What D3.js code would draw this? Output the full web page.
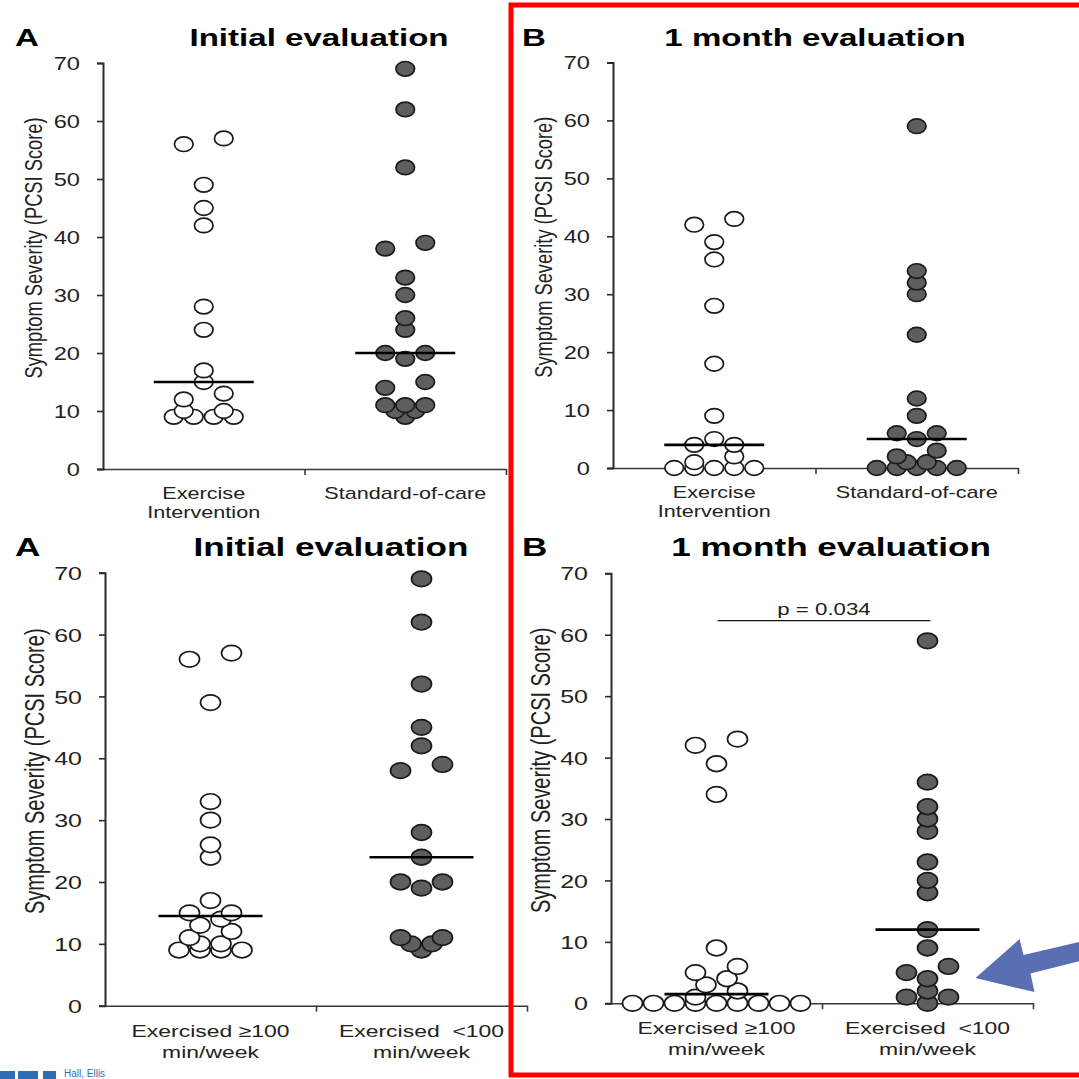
<!DOCTYPE html>
<html><head><meta charset="utf-8">
<script src="https://cdn.jsdelivr.net/npm/d3@7"></script>
<style>
html,body{margin:0;padding:0;background:#fff}
svg{display:block}
text{font-family:"Liberation Sans",Arial,Helvetica,sans-serif;white-space:pre}
</style>
</head><body><div id="chart"></div>
<script>
// ---------------- data ----------------
const categoriesTop = ["Exercise\nIntervention", "Standard-of-care"];
const categoriesBottom = ["Exercised ≥100\nmin/week", "Exercised  <100\nmin/week"];
const yTicks = [0, 10, 20, 30, 40, 50, 60, 70];
const yLabel = "Symptom Severity (PCSI Score)";
const titles = ["Initial evaluation", "1 month evaluation", "Initial evaluation", "1 month evaluation"];
const letters = ["A", "B", "A", "B"];

const initialExercise   = [57, 56, 49, 45, 42, 28, 24, 17, 15, 13, 12, 10, 10, 9, 9, 9, 9];
const initialStandard   = [69, 62, 52, 39, 38, 33, 30, 26, 24, 20, 20, 19, 15, 14, 11, 11, 11, 10, 10, 9];
const monthExercise     = [43, 42, 39, 36, 28, 18, 9, 5, 4, 4, 2, 1, 0, 0, 0, 0, 0];
const monthStandard     = [59, 34, 32, 30, 23, 12, 9, 6, 6, 5, 3, 2, 1, 1, 0, 0, 0, 0, 0];
const initialExercised100  = [57, 56, 49, 33, 30, 26, 24, 17, 15, 15, 14, 13, 12, 11, 10, 10, 9, 9, 9, 9];
const initialExercisedLess = [69, 62, 52, 45, 42, 39, 38, 28, 24, 20, 20, 19, 11, 11, 10, 10, 9];
const monthExercised100    = [43, 42, 39, 34, 9, 6, 5, 4, 3, 2, 1, 0, 0, 0, 0, 0, 0, 0, 0, 0];
const monthExercisedLess   = [59, 36, 32, 30, 28, 23, 20, 18, 12, 9, 6, 5, 4, 2, 1, 1, 0];
const pValueLabel = "p = 0.034";
const pValueLevel = 62.3;
const arrowTipValue = 4.1;
const footerText = "Hall, Ellis";

// ---------------- layout ----------------
const W = 1079, H = 1079, S = 1.35; // S: horizontal text stretch of the source figure
const svg = d3.select("#chart").append("svg").attr("width", W).attr("height", H);
svg.append("rect").attr("width", W).attr("height", H).attr("fill", "#fff");

const panels = [
  { series: [initialExercise, initialStandard], cats: categoriesTop,
    box: { left: 103, right: 506, top: 63, bottom: 469 }, titleX: 319, titleY: 46, letterX: 15,
    fs: { title: 24.5, tick: 17.5, cat: 16, ylab: 18.3 }, catY: [30, 19], step: 20, rx: 9.3, ry: 7.3, half: 50 },
  { series: [monthExercise, monthStandard], cats: categoriesTop,
    box: { left: 613, right: 1018, top: 62.5, bottom: 468 }, titleX: 815, titleY: 46, letterX: 522,
    fs: { title: 24.5, tick: 17.5, cat: 16, ylab: 18.3 }, catY: [30, 19], step: 20, rx: 9.3, ry: 7.3, half: 50 },
  { series: [initialExercised100, initialExercisedLess], cats: categoriesBottom,
    box: { left: 105, right: 527, top: 572.7, bottom: 1005.7 }, titleX: 331, titleY: 556, letterX: 15,
    fs: { title: 26, tick: 18.5, cat: 17, ylab: 20 }, catY: [31, 21], step: 21, rx: 10, ry: 7.8, half: 52 },
  { series: [monthExercised100, monthExercisedLess], cats: categoriesBottom,
    box: { left: 611, right: 1033, top: 573.3, bottom: 1003.3 }, titleX: 831, titleY: 556, letterX: 522,
    fs: { title: 26, tick: 18.5, cat: 17, ylab: 20 }, catY: [31, 21], step: 21, rx: 10, ry: 7.8, half: 52 }
];

// symmetric dot-plot layout (offsets in units of one symbol width)
function swarmOffsets(values) {
  const idx = values.map((v, i) => i).sort((a, b) => values[b] - values[a]);
  const groups = [];
  idx.forEach(i => {
    const g = groups[groups.length - 1];
    if (g && values[g[0]] === values[i]) g.push(i); else groups.push([i]);
  });
  const rows = [];
  for (let k = 0; k < groups.length; k++) {
    const g = groups[k], nx = groups[k + 1];
    if (g.length === 1 && nx && nx.length === 1 && values[g[0]] - values[nx[0]] <= 1) {
      rows.push([nx[0], g[0]]); k++;
    } else rows.push(g);
  }
  const off = new Array(values.length).fill(0);
  let prev = null;
  rows.forEach(r => {
    const n = r.length;
    let o = n === 1 ? [0] : n === 2 ? [-1, 1] : r.map((_, i) => i - (n - 1) / 2);
    if (n === 2 && prev) {
      const gap = d3.min(prev.r, i => values[i]) - d3.max(r, i => values[i]);
      if (gap <= 1) {
        const clash = c => c.some(x => prev.o.includes(x));
        if (clash(o)) { o = [-0.5, 0.5]; if (clash(o)) o = [-1.5, 1.5]; }
      }
    }
    r.forEach((i, j) => off[i] = o[j]);
    prev = { r, o };
  });
  return off;
}

function stretchedText(g, x, y, str, size, opts = {}) {
  const t = g.append("text")
    .attr("transform", `translate(${x},${y}) scale(${S},1)` + (opts.rotate ? ` rotate(${opts.rotate})` : ""))
    .attr("font-size", size)
    .attr("text-anchor", opts.anchor || "middle")
    .attr("font-weight", opts.bold ? "bold" : null)
    .attr("fill", opts.fill || "#111");
  if (opts.dy) t.attr("dy", opts.dy);
  const lines = str.split("\n");
  if (lines.length === 1) t.text(str);
  else lines.forEach((ln, i) => t.append("tspan").attr("x", 0).attr("dy", i === 0 ? 0 : opts.lineGap).text(ln));
  return t;
}

const scales = [];
panels.forEach((p, pi) => {
  const g = svg.append("g");
  const b = p.box;
  const y = d3.scaleLinear().domain([0, 70]).range([b.bottom, b.top]);
  const x = d3.scalePoint().domain([0, 1]).range([b.left, b.right]).padding(0.5);
  const xa = d3.scaleLinear().domain([0, 1]).range([b.left, b.right]);
  scales.push({ x, y });

  // y axis
  const ya = g.append("g").attr("transform", `translate(${b.left},0)`)
    .call(d3.axisLeft(y).tickValues(yTicks).tickSize(6).tickSizeOuter(6));
  ya.select(".domain").attr("stroke", "#2a2a2a").attr("stroke-width", 2);
  ya.selectAll(".tick line").attr("stroke", "#2a2a2a").attr("stroke-width", 1.6);
  ya.selectAll(".tick text").attr("x", 0).attr("dy", "0.36em")
    .attr("transform", `translate(-23,0) scale(${S},1)`)
    .attr("font-size", p.fs.tick).attr("fill", "#222")
    .attr("font-family", '"Liberation Sans",Arial,sans-serif');

  // x axis
  const xg = g.append("g").attr("transform", `translate(0,${b.bottom})`)
    .call(d3.axisBottom(xa).tickValues([0.5, 1]).tickFormat("").tickSize(6).tickSizeOuter(0));
  xg.select(".domain").attr("stroke", "#3a3a3a").attr("stroke-width", 1.6);
  xg.selectAll(".tick line").attr("stroke", "#3a3a3a").attr("stroke-width", 1.6);

  // category labels
  p.cats.forEach((c, ci) => {
    stretchedText(g, x(ci), b.bottom + p.catY[0], c, p.fs.cat, { lineGap: p.catY[1], fill: "#222" });
  });

  // y label
  stretchedText(g, b.left - 70, (b.top + b.bottom) / 2 - 18, yLabel, p.fs.ylab,
    { rotate: -90, dy: "0.35em", fill: "#222" });

  // title & letter
  stretchedText(g, p.titleX, p.titleY, titles[pi], p.fs.title, { bold: true, fill: "#000" });
  stretchedText(g, p.letterX, p.titleY, letters[pi], p.fs.title, { bold: true, anchor: "start", fill: "#000" });

  // points
  p.series.forEach((vals, si) => {
    const off = swarmOffsets(vals);
    const pts = vals.map((v, i) => ({ v, o: off[i] })).sort((a, b) => a.v - b.v);
    g.append("g").selectAll("ellipse").data(pts).join("ellipse")
      .attr("cx", d => x(si) + d.o * p.step)
      .attr("cy", d => y(d.v))
      .attr("rx", p.rx).attr("ry", p.ry)
      .attr("fill", si === 0 ? "#ffffff" : "#5e5e5e")
      .attr("stroke", "#1a1a1a").attr("stroke-width", 1.7);
    const med = d3.median(vals);
    g.append("line")
      .attr("x1", x(si) - p.half).attr("x2", x(si) + p.half)
      .attr("y1", y(med)).attr("y2", y(med))
      .attr("stroke", "#000").attr("stroke-width", 2.6);
  });
});

// p-value bracket in panel 4
{
  const { x, y } = scales[3];
  const g = svg.append("g");
  g.append("line").attr("x1", x(0) + 1).attr("x2", x(1) + 3)
    .attr("y1", y(pValueLevel)).attr("y2", y(pValueLevel))
    .attr("stroke", "#111").attr("stroke-width", 1.2);
  stretchedText(g, (x(0) + x(1)) / 2 + 2, y(pValueLevel) - 6, pValueLabel, 16.5, { fill: "#222" });
}

// annotation arrow
{
  const { x, y } = scales[3];
  const tx = x(1) + 48, ty = y(arrowTipValue);
  const rel = [[0, 0], [44, -39], [48, -23], [130, -42.5], [130, -23.5], [55, -4.7], [59, 14]];
  svg.append("polygon")
    .attr("points", rel.map(([dx, dy]) => `${tx + dx},${ty + dy}`).join(" "))
    .attr("fill", "#5a6eb4");
}

// red highlight frame
svg.append("rect").attr("x", 511).attr("y", 5).attr("width", 600).attr("height", 1070)
  .attr("fill", "none").attr("stroke", "#ff0000").attr("stroke-width", 5);

// footer
{
  const g = svg.append("g");
  [[0, 15], [18, 20], [43, 13]].forEach(([x0, w]) =>
    g.append("rect").attr("x", x0).attr("y", 1071).attr("width", w).attr("height", 8).attr("fill", "#2f6db5"));
  g.append("text").attr("x", 64).attr("y", 1077).attr("font-size", 10)
    .attr("font-family", '"Liberation Serif","Times New Roman",serif').attr("fill", "#2f6db5").text(footerText);
}
</script>
</body></html>
